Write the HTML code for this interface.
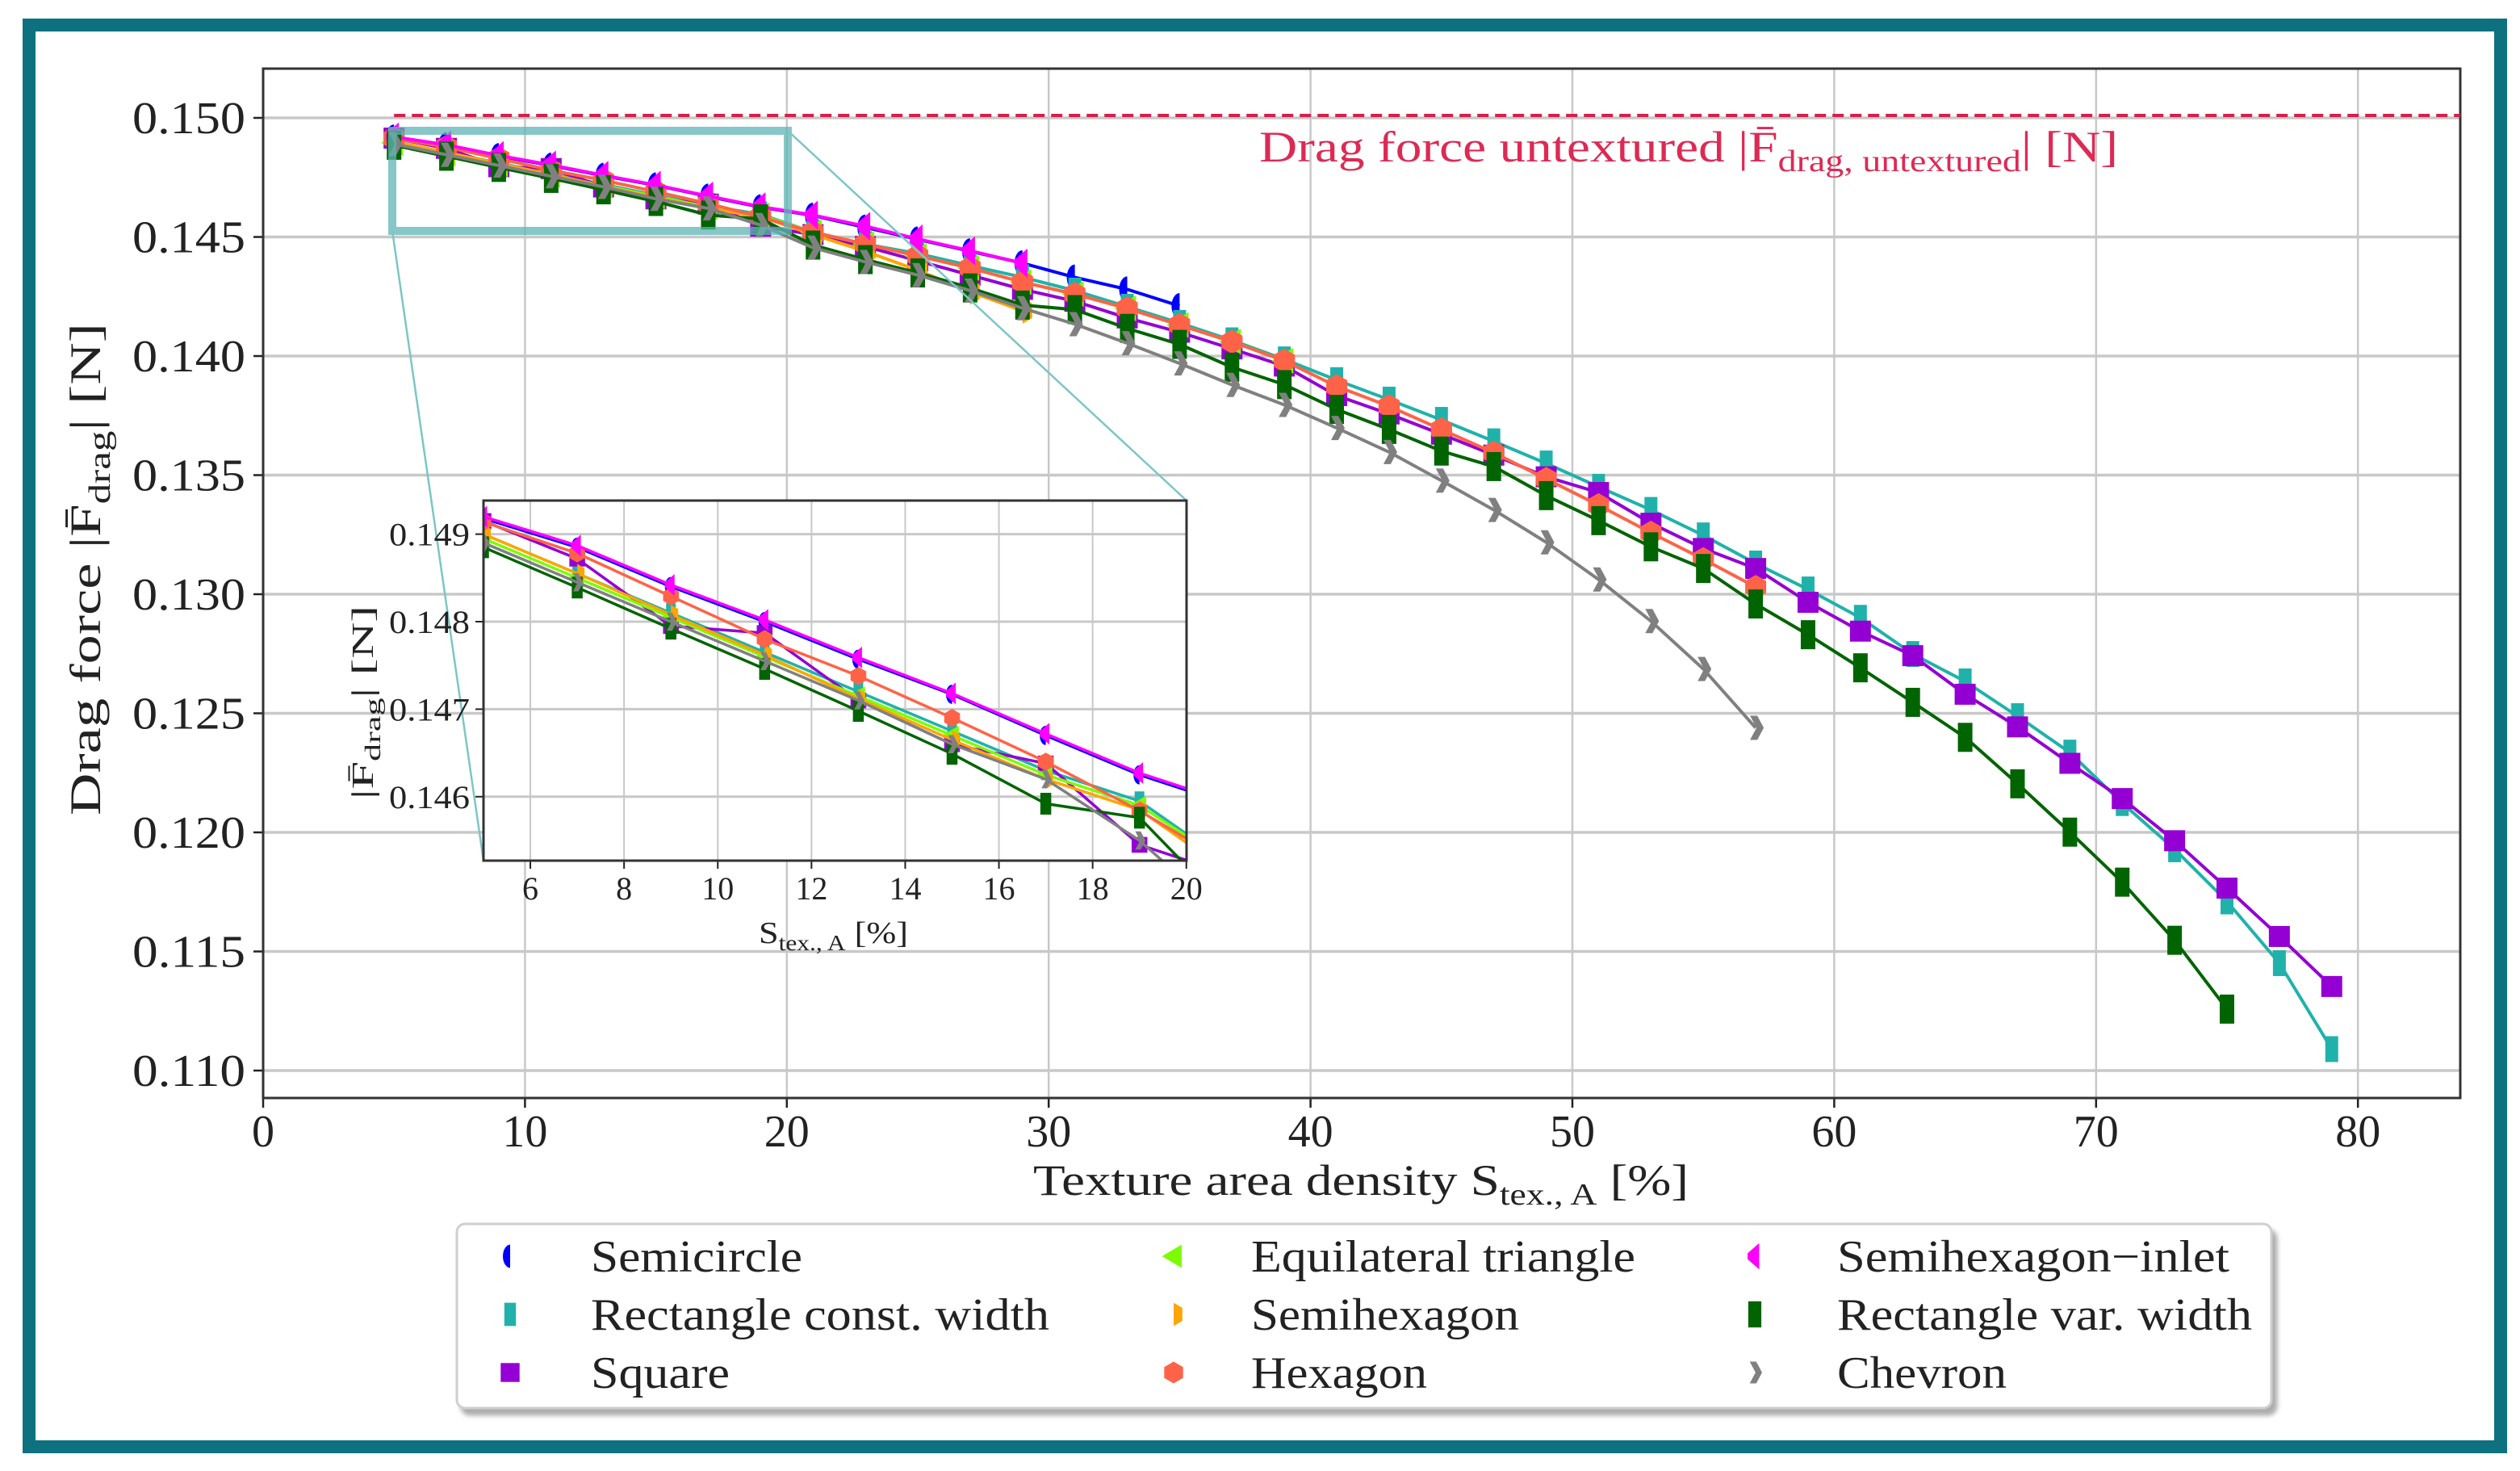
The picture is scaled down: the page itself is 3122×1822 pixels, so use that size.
<!DOCTYPE html>
<html><head><meta charset="utf-8">
<style>
html,body{margin:0;padding:0;background:#fff;width:3122px;height:1822px;overflow:hidden;position:relative;}
svg{display:block;position:absolute;left:0;top:0;font-family:"Liberation Serif","DejaVu Serif",serif;}
</style></head>
<body>
<svg id="chart" xmlns="http://www.w3.org/2000/svg" width="3122" height="1822" viewBox="0 0 3122 1822" overflow="hidden">
  <rect x="0" y="0" width="3122" height="1822" fill="#fff"/>
  <rect x="36" y="31" width="3062" height="1761" fill="none" stroke="#0e7180" stroke-width="16"/>
  <defs>
    <clipPath id="mainClip"><rect x="326" y="85" width="2722" height="1275"/></clipPath>
    <clipPath id="insetClip"><rect x="599" y="620" width="871" height="446"/></clipPath>
    <filter id="shadow" x="-5%" y="-5%" width="110%" height="120%"><feDropShadow dx="6" dy="8" stdDeviation="3" flood-color="#999" flood-opacity="0.8"/></filter>
  </defs>
  <g id="mainGrid"></g>
  <g id="mainAxes"></g>
  <g id="mainSeries" clip-path="url(#mainClip)"></g>
  <g id="zoomBox"></g>
  <g id="inset"></g>
  <text x="1560" y="200" font-size="54" fill="#dc2a55" textLength="1064" lengthAdjust="spacingAndGlyphs">Drag force untextured |F̄<tspan font-size="38" dy="12">drag, untextured</tspan><tspan dy="-12">|  [N]</tspan></text>
  <text x="1280" y="1480" font-size="54" fill="#222" textLength="812" lengthAdjust="spacingAndGlyphs">Texture area density S<tspan font-size="38" dy="12">tex., A</tspan><tspan dy="-12"> [%]</tspan></text>
  <text transform="translate(124,1010) rotate(-90)" x="0" y="0" font-size="54" fill="#222" textLength="610" lengthAdjust="spacingAndGlyphs">Drag force |F̄<tspan font-size="38" dy="12">drag</tspan><tspan dy="-12">|  [N]</tspan></text>
  <g id="legend"></g>
</svg>
<script>
// ---------- data ----------
const xTicks = [0,10,20,30,40,50,60,70,80];
const yTicks = [0.110,0.115,0.120,0.125,0.130,0.135,0.140,0.145,0.150];
const yTickLabels = ["0.110","0.115","0.120","0.125","0.130","0.135","0.140","0.145","0.150"];
const insetXTicks = [6,8,10,12,14,16,18,20];
const insetYTicks = [0.146,0.147,0.148,0.149];
const insetYTickLabels = ["0.146","0.147","0.148","0.149"];
const untexturedValue = 0.1501;

const semicircleX = [5,7,9,11,13,15,17,19,21,23,25,27,29,31,33,35];
const semicircleY = [0.14918,0.14885,0.1484,0.1480,0.14757,0.14717,0.1467,0.14625,0.1459,0.1454,0.1449,0.1444,0.1439,0.1433,0.1428,0.1421];
const rectConstX = [5,7,9,11,13,15,17,19,21,23,25,27,29,31,33,35,37,39,41,43,45,47,49,51,53,55,57,59,61,63,65,67,69,71,73,75,77,79];
const rectConstY = [0.1490,0.14855,0.1481,0.14765,0.1472,0.14675,0.1463,0.14595,0.1452,0.1447,0.1443,0.1438,0.14331,0.14275,0.14207,0.14139,0.14066,0.13986,0.13899,0.13817,0.13732,0.13642,0.13549,0.13451,0.13354,0.13247,0.13129,0.1302,0.12901,0.12749,0.12634,0.12488,0.12335,0.12123,0.11929,0.1171,0.11451,0.1109];
const squareX = [5,7,9,11,13,15,17,19,21,23,25,27,29,31,33,35,37,39,41,43,45,47,49,51,53,55,57,59,61,63,65,67,69,71,73,75,77,79];
const squareY = [0.14915,0.14872,0.14795,0.14787,0.1471,0.1466,0.14638,0.14545,0.1451,0.1446,0.1440,0.1434,0.1428,0.1423,0.1416,0.1410,0.1403,0.13958,0.13834,0.13757,0.13672,0.13584,0.13493,0.13427,0.13298,0.13192,0.13108,0.12966,0.12845,0.12742,0.1258,0.12443,0.1229,0.12142,0.11965,0.11766,0.11563,0.11353];
const triangleX = [5,7,9,11,13,15,17,19,21,23,25,27,29,31,33,35,37,39];
const triangleY = [0.14895,0.14850,0.14805,0.14760,0.14715,0.14670,0.14625,0.14590,0.1452,0.1447,0.1442,0.1437,0.1431,0.1426,0.1420,0.1413,0.1406,0.1398];
const semihexX = [5,7,9,11,13,15,17,19,21,23,25,27,29];
const semihexY = [0.14900,0.14855,0.14808,0.14762,0.14712,0.14665,0.14620,0.14585,0.1451,0.1444,0.1436,0.1427,0.1419];
const hexagonX = [5,7,9,11,13,15,17,19,21,23,25,27,29,31,33,35,37,39,41,43,45,47,49,51,53,55,57];
const hexagonY = [0.14914,0.14878,0.14829,0.1478,0.14738,0.1469,0.14640,0.14584,0.1452,0.1447,0.1442,0.1437,0.1431,0.1426,0.1420,0.1413,0.1406,0.1398,0.13873,0.13789,0.13692,0.13594,0.13484,0.13374,0.13258,0.13147,0.1303];
const inletX = [5,7,9,11,13,15,17,19,21,23,25,27,29];
const inletY = [0.14920,0.14887,0.14842,0.14802,0.14759,0.14718,0.14672,0.14627,0.14592,0.14545,0.14492,0.14442,0.14390];
const rectVarX = [5,7,9,11,13,15,17,19,21,23,25,27,29,31,33,35,37,39,41,43,45,47,49,51,53,55,57,59,61,63,65,67,69,71,73,75];
const rectVarY = [0.14885,0.14839,0.14792,0.14746,0.14698,0.14649,0.14592,0.14576,0.14466,0.14405,0.14349,0.14286,0.14214,0.14195,0.14116,0.14049,0.13953,0.1388,0.13776,0.13692,0.13601,0.13536,0.13414,0.13309,0.13199,0.13108,0.12959,0.1283,0.12691,0.12546,0.12399,0.12204,0.12001,0.11791,0.11547,0.11258];
const chevronX = [5,7,9,11,13,15,17,19,21,23,25,27,29,31,33,35,37,39,41,43,45,47,49,51,53,55,57];
const chevronY = [0.1489,0.14845,0.1480,0.14755,0.1471,0.1466,0.1462,0.14550,0.14455,0.14395,0.1434,0.14275,0.14201,0.14134,0.14054,0.13969,0.13879,0.13795,0.13698,0.13597,0.13477,0.13354,0.13218,0.13062,0.12887,0.12686,0.12439];

const seriesNames = ["Semicircle","Rectangle const. width","Square","Equilateral triangle","Semihexagon","Hexagon","Semihexagon\u2212inlet","Rectangle var. width","Chevron"];

// ---------- helpers ----------
const NS = "http://www.w3.org/2000/svg";
function mk(tag, attrs, parent){ const e=document.createElementNS(NS,tag); for(const k in attrs) e.setAttribute(k,attrs[k]); if(parent) parent.appendChild(e); return e; }
const X = x => 326 + x*32.44;
const Y = v => 146 + (0.150 - v)/0.005*147.5;
const IX = x => 599 + (x-5)*58.05;
const IY = v => 661.6 + (0.149 - v)*108400;

const series = [
  {key:"semicircle", xs:semicircleX, ys:semicircleY, color:"#0000ff", m:"semicircle"},
  {key:"rect-const", xs:rectConstX, ys:rectConstY, color:"#20b2aa", m:"rectconst"},
  {key:"square", xs:squareX, ys:squareY, color:"#9400d3", m:"square"},
  {key:"triangle", xs:triangleX, ys:triangleY, color:"#7cfc00", m:"triangle"},
  {key:"semihexagon", xs:semihexX, ys:semihexY, color:"#ffa500", m:"semihex"},
  {key:"hexagon", xs:hexagonX, ys:hexagonY, color:"#ff6347", m:"hexagon"},
  {key:"semihex-inlet", xs:inletX, ys:inletY, color:"#ff00ff", m:"inlet"},
  {key:"rect-var", xs:rectVarX, ys:rectVarY, color:"#006400", m:"rectvar"},
  {key:"chevron", xs:chevronX, ys:chevronY, color:"#808080", m:"chevron"}
];

function marker(parent, type, cx, cy, color, k){
  k = k || 1;
  let el;
  const P = pts => pts.map(p=>(cx+p[0]*k).toFixed(1)+","+(cy+p[1]*k).toFixed(1)).join(" ");
  if(type==="semicircle") el = mk("path",{d:`M${cx},${cy-16*k} A${10*k},${16*k} 0 0 0 ${cx},${cy+16*k} Z`,fill:color},parent);
  else if(type==="rectconst") el = mk("rect",{x:cx-8*k,y:cy-16*k,width:16*k,height:32*k,fill:color},parent);
  else if(type==="square") el = mk("rect",{x:cx-13*k,y:cy-13*k,width:26*k,height:26*k,fill:color},parent);
  else if(type==="triangle") el = mk("polygon",{points:P([[-16,0],[11,-16],[11,16]]),fill:color},parent);
  else if(type==="semihex") el = mk("polygon",{points:P([[0,-16],[12,-9],[12,9],[0,16]]),fill:color},parent);
  else if(type==="hexagon") el = mk("polygon",{points:P([[0,-15],[13,-7.5],[13,7.5],[0,15],[-13,7.5],[-13,-7.5]]),fill:color},parent);
  else if(type==="inlet") el = mk("polygon",{points:P([[-10,-4],[6,-18],[6,18],[-10,4]]),fill:color},parent);
  else if(type==="rectvar") el = mk("rect",{x:cx-9*k,y:cy-18*k,width:18*k,height:36*k,fill:color},parent);
  else el = mk("polygon",{points:P([[-7,-15],[2,-15],[10,0],[2,15],[-7,15],[1,0]]),fill:color},parent);
  return el;
}

// ---------- main grid & axes ----------
const grid = document.getElementById("mainGrid");
const axes = document.getElementById("mainAxes");
mk("rect",{x:326,y:85,width:2722,height:1275,fill:"#fff"},grid);
xTicks.forEach(t=>{
  const l = mk("line",{x1:X(t),x2:X(t),y1:85,y2:1360,stroke:"#c8c8c8","stroke-width":2.5},grid);
  
  
  const tk = mk("line",{x1:X(t),x2:X(t),y1:1360,y2:1372,stroke:"#222","stroke-width":2.5},axes);
  
  
  const tx = mk("text",{x:X(t),y:1420,"font-size":56,"text-anchor":"middle",fill:"#222"},axes);
  tx.textContent = String(t);
  
  
});
yTicks.forEach((t,i)=>{
  const l = mk("line",{x1:326,x2:3048,y1:Y(t),y2:Y(t),stroke:"#c8c8c8","stroke-width":3.5},grid);
  
  
  const tk = mk("line",{x1:314,x2:326,y1:Y(t),y2:Y(t),stroke:"#222","stroke-width":2.5},axes);
  
  
  const tx = mk("text",{x:304,y:Y(t)+19,"font-size":56,"text-anchor":"end",fill:"#222",textLength:140,lengthAdjust:"spacingAndGlyphs"},axes);
  tx.textContent = yTickLabels[i];
  
  
});
const frame = mk("rect",{x:326,y:85,width:2722,height:1275,fill:"none",stroke:"#333","stroke-width":3},axes);



// ---------- main series ----------
const ms = document.getElementById("mainSeries");
const dash = mk("line",{x1:X(5),x2:3048,y1:Y(untexturedValue),y2:Y(untexturedValue),stroke:"#d81e4a","stroke-width":4,"stroke-dasharray":"14 8"},ms);



function drawSeries(parent, xf, yf, k, lw){
  series.forEach(s=>{
    const g = mk("g",{},parent);
    
    
    const pts = s.xs.map((x,i)=>xf(x).toFixed(1)+","+yf(s.ys[i]).toFixed(1)).join(" ");
    const pl = mk("polyline",{points:pts,fill:"none",stroke:s.color,"stroke-width":lw,"stroke-linejoin":"round"},g);
    
    
    s.xs.forEach((x,i)=>{
      const m = marker(g, s.m, xf(x), yf(s.ys[i]), s.color, k);
      
      
    });
  });
}
drawSeries(ms, X, Y, 1, 4);

// ---------- zoom indicator ----------
const zb = document.getElementById("zoomBox");
const zr = mk("rect",{x:486,y:162,width:490,height:124,fill:"none",stroke:"#5fb4b4","stroke-width":10,"stroke-opacity":0.75},zb);


const c1 = mk("line",{x1:976,y1:162,x2:1470,y2:620,stroke:"#7cc6c6","stroke-width":2.5},zb);


const c2 = mk("line",{x1:486,y1:286,x2:599,y2:1066,stroke:"#7cc6c6","stroke-width":2.5},zb);



// ---------- inset ----------
const ins = document.getElementById("inset");
mk("rect",{x:599,y:620,width:871,height:446,fill:"#fff"},ins);
const ig = mk("g",{},ins);
insetXTicks.forEach(t=>{
  const l = mk("line",{x1:IX(t),x2:IX(t),y1:620,y2:1066,stroke:"#c8c8c8","stroke-width":2},ig);
  
  
  const tk = mk("line",{x1:IX(t),x2:IX(t),y1:1066,y2:1076,stroke:"#222","stroke-width":2},ig);
  
  
  const tx = mk("text",{x:IX(t),y:1114,"font-size":40,"text-anchor":"middle",fill:"#222"},ig);
  tx.textContent = String(t);
  
  
});
insetYTicks.forEach((t,i)=>{
  const l = mk("line",{x1:599,x2:1470,y1:IY(t),y2:IY(t),stroke:"#c8c8c8","stroke-width":3},ig);
  
  
  const tk = mk("line",{x1:589,x2:599,y1:IY(t),y2:IY(t),stroke:"#222","stroke-width":2},ig);
  
  
  const tx = mk("text",{x:582,y:IY(t)+14,"font-size":40,"text-anchor":"end",fill:"#222",textLength:100,lengthAdjust:"spacingAndGlyphs"},ig);
  tx.textContent = insetYTickLabels[i];
  
  
});
const isr = mk("g",{"clip-path":"url(#insetClip)"},ins);


drawSeries(isr, IX, IY, 0.75, 3.5);
const ib = mk("rect",{x:599,y:620,width:871,height:446,fill:"none",stroke:"#333","stroke-width":3},ins);


const ixt = mk("text",{x:940,y:1168,"font-size":38,fill:"#222",textLength:185,lengthAdjust:"spacingAndGlyphs"},ins);
ixt.innerHTML = 'S<tspan font-size="27" dy="9">tex., A</tspan><tspan dy="-9"> [%]</tspan>';


const iyt = mk("text",{transform:"translate(462,990) rotate(-90)",x:0,y:0,"font-size":38,fill:"#222",textLength:240,lengthAdjust:"spacingAndGlyphs"},ins);
iyt.innerHTML = '|F̄<tspan font-size="27" dy="9">drag</tspan><tspan dy="-9">|  [N]</tspan>';



// ---------- legend ----------
const lg = document.getElementById("legend");
const lbox = mk("rect",{x:566,y:1516,width:2248,height:228,rx:10,fill:"#fff",stroke:"#cfcfcf","stroke-width":3,filter:"url(#shadow)"},lg);


const colMarkerX = [632,1454,2174];
const colTextX = [732,1550,2276];
const rowY = [1556,1628,1700];
const textWidths = [262,568,172,476,332,218,486,514,210];
series.forEach((s,i)=>{
  const col = Math.floor(i/3), row = i%3;
  const g = mk("g",{},lg);
  
  
  const m = marker(g, s.m, colMarkerX[col], rowY[row], s.color, 0.9);
  
  
  const t = mk("text",{x:colTextX[col],y:rowY[row]+19,"font-size":56,fill:"#222",textLength:textWidths[i],lengthAdjust:"spacingAndGlyphs"},g);
  t.textContent = seriesNames[i];
  
  
});
</script>
</body></html>
